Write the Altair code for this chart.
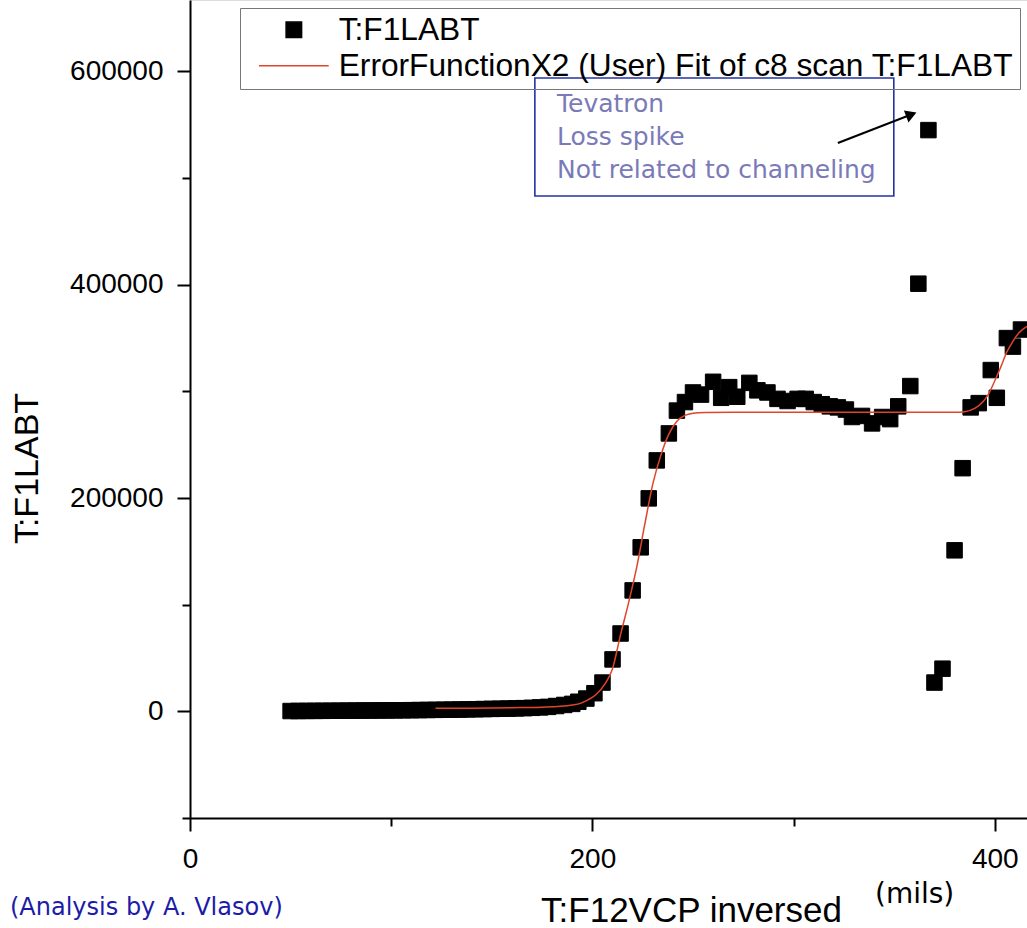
import altair as alt
import pandas as pd

# ---------------- data ----------------
scan_x = [50, 54, 58, 62, 66, 70, 74, 78, 82, 86, 90, 94, 98, 102, 106, 110, 114, 118,
          122, 126, 130, 134, 138, 142, 146, 150, 154, 158, 162, 166, 170, 174, 178, 182,
          186, 190, 193, 197, 201, 205, 210, 214, 220, 224, 228, 232, 238, 242, 246, 250,
          254, 260, 264, 268, 272, 278, 282, 287, 292, 297, 302, 306, 310, 314, 318, 322,
          326, 329, 334, 339, 344, 348, 352, 358, 362, 367, 370, 374, 380, 384, 388, 392,
          398, 401, 406, 409, 413]
scan_y = [300, 350, 400, 450, 500, 550, 600, 650, 700, 750, 800, 850, 900, 950, 1000, 1100,
          1200, 1300, 1400, 1500, 1600, 1700, 1850, 2000, 2150, 2300, 2450, 2600, 2800, 3000,
          3300, 3700, 4200, 5000, 6000, 7000, 9000, 12000, 17000, 27000, 48700, 73000, 113400,
          153800, 199700, 235300, 260600, 282000, 290000, 299000, 297000, 309000, 294000,
          304000, 295000, 308000, 301000, 299000, 293000, 291000, 293000, 293000, 290000,
          288000, 286000, 285000, 283000, 276000, 277000, 270000, 276000, 274000, 286000,
          305000, 401000, 545000, 27000, 40000, 151000, 228000, 285000, 289000, 320000,
          294000, 350000, 342000, 358000]

fit_x = [122, 140, 160, 175, 184, 190, 194, 198, 202, 206, 210, 214, 218, 222, 226, 230,
         234, 238, 242, 246, 250, 256, 270, 300, 350, 380, 385, 390, 394, 397, 400, 403,
         406, 409, 412, 416]
fit_y = [2800, 3000, 3400, 3900, 4700, 6000, 7500, 11000, 16000, 25000, 40000, 72000,
         102000, 135000, 175000, 213000, 240000, 260000, 272000, 277500, 279500, 280300,
         280500, 280500, 280500, 280500, 281000, 284000, 290000, 298000, 310000, 323000,
         337000, 347000, 355000, 361000]

series_names = ["T:F1LABT", "ErrorFunctionX2 (User) Fit of c8 scan T:F1LABT"]
x_title = "T:F12VCP inversed"
y_title = "T:F1LABT"

note_lines = ["Tevatron", "Loss spike", "Not related to channeling"]
note_x = [182.4, 182.4, 182.4]
note_y = [569500, 538600, 507600]
box_x = [171.4]
box_x2 = [349.8]
box_y = [593900]
box_y2 = [483200]
arrow_x = [322.0, 358.5]
arrow_y = [532900, 559600]

credit_text = ["(Analysis by A. Vlasov)"]
unit_text = ["(mils)"]

RED = "#e0452b"
BLACK = "#000000"
LINE_SYMBOL = "M-4.5,0H4.5"

# ---------------- tables ----------------
df_scan = pd.DataFrame({"x": scan_x, "y": scan_y, "series": series_names[0]})
df_fit = pd.DataFrame({"x": fit_x, "y": fit_y, "series": series_names[1]})
df_note = pd.DataFrame({"x": note_x, "y": note_y, "t": note_lines})
df_box = pd.DataFrame({"x": box_x, "x2": box_x2, "y": box_y, "y2": box_y2})
df_arrow = pd.DataFrame({"x": arrow_x, "y": arrow_y})
df_head = df_arrow.iloc[[1]]
df_credit = pd.DataFrame({"t": credit_text})
df_unit = pd.DataFrame({"t": unit_text})

xs = alt.Scale(domain=[0, 416], nice=False, zero=False)
ys = alt.Scale(domain=[-100000, 667000], nice=False, zero=False)

x_axis = alt.Axis(
    values=[0, 100, 200, 300, 400], format="d",
    labelExpr="datum.value % 200 === 0 ? datum.label : ''",
    title=x_title, titleFont="Liberation Sans", titleFontSize=35, titleFontWeight="normal",
    titleColor=BLACK, titleX=501, titleY=92, titleAlign="center", titleBaseline="middle",
    labelFont="Liberation Sans", labelFontSize=28, labelColor=BLACK, labelPadding=14,
    labelFlush=False, labelOverlap=False,
    tickSize={"condition": {"test": "datum.value % 200 === 0", "value": 13}, "value": 8},
    tickColor=BLACK, tickWidth=2, domainColor=BLACK, domainWidth=2, grid=False,
)
y_axis = alt.Axis(
    values=[-100000, 0, 100000, 200000, 300000, 400000, 500000, 600000], format="d",
    labelExpr="datum.value % 200000 === 0 ? datum.label : ''",
    title=y_title, titleFont="Liberation Sans", titleFontSize=34, titleFontWeight="normal",
    titleColor=BLACK, titleX=-163, titleY=468, titleAngle=270, titleAlign="center",
    titleBaseline="middle",
    labelFont="Liberation Sans", labelFontSize=28, labelColor=BLACK, labelPadding=14,
    labelFlush=False, labelOverlap=False,
    tickSize={"condition": {"test": "datum.value % 200000 === 0", "value": 13}, "value": 8},
    tickColor=BLACK, tickWidth=2, domainColor=BLACK, domainWidth=2, grid=False,
)

legend = alt.Legend(
    title=None, orient="none", legendX=50, legendY=8,
    labelFont="Liberation Sans", labelFontSize=31.7, labelColor=BLACK, labelLimit=0,
    padding=6, symbolOffset=32, labelOffset=29, rowPadding=3,
    strokeColor="#777777", symbolStrokeWidth=1.5, symbolSize=240,
)

points = alt.Chart(df_scan).mark_point(
    filled=False, fill=BLACK, opacity=1, strokeWidth=1, size=240
).encode(
    x=alt.X("x:Q", scale=xs, axis=x_axis),
    y=alt.Y("y:Q", scale=ys, axis=y_axis),
    color=alt.Color("series:N", scale=alt.Scale(domain=series_names, range=[BLACK, RED]),
                    legend=legend),
    shape=alt.Shape("series:N", scale=alt.Scale(domain=series_names,
                                                range=["square", LINE_SYMBOL]),
                    legend=legend),
)

fit = alt.Chart(df_fit).mark_line(
    color=RED, strokeWidth=1.5, interpolate="monotone"
).encode(x=alt.X("x:Q", scale=xs), y=alt.Y("y:Q", scale=ys))

box = alt.Chart(df_box).mark_rect(
    fillOpacity=0, stroke="#2233a3", strokeWidth=1.6
).encode(x=alt.X("x:Q", scale=xs), x2="x2:Q", y=alt.Y("y:Q", scale=ys), y2="y2:Q")

note = alt.Chart(df_note).mark_text(
    align="left", baseline="middle", font="DejaVu Sans", fontSize=25, color="#7a7ab8"
).encode(x=alt.X("x:Q", scale=xs), y=alt.Y("y:Q", scale=ys), text="t:N")

arrow = alt.Chart(df_arrow).mark_line(color=BLACK, strokeWidth=2).encode(
    x=alt.X("x:Q", scale=xs), y=alt.Y("y:Q", scale=ys))
head = alt.Chart(df_head).mark_point(
    shape="triangle-up", angle=69, filled=True, color=BLACK, size=160, opacity=1
).encode(x=alt.X("x:Q", scale=xs), y=alt.Y("y:Q", scale=ys))

credit = alt.Chart(df_credit).mark_text(
    align="left", baseline="middle", font="DejaVu Sans", fontSize=24, color="#1c1ca8"
).encode(x=alt.value(-180), y=alt.value(908), text="t:N")
unit = alt.Chart(df_unit).mark_text(
    align="left", baseline="middle", font="DejaVu Sans", fontSize=28, color=BLACK
).encode(x=alt.value(685), y=alt.value(895), text="t:N")

chart = alt.layer(points, fit, box, note, arrow, head, credit, unit).properties(
    width=837, height=818,
    autosize=alt.AutoSizeParams(type="none"),
    padding={"left": 190, "top": 0, "right": 0, "bottom": 110},
).configure_view(stroke=None).configure(background="white")

chart.save("out.html", embed_options={"renderer": "svg", "actions": False})
